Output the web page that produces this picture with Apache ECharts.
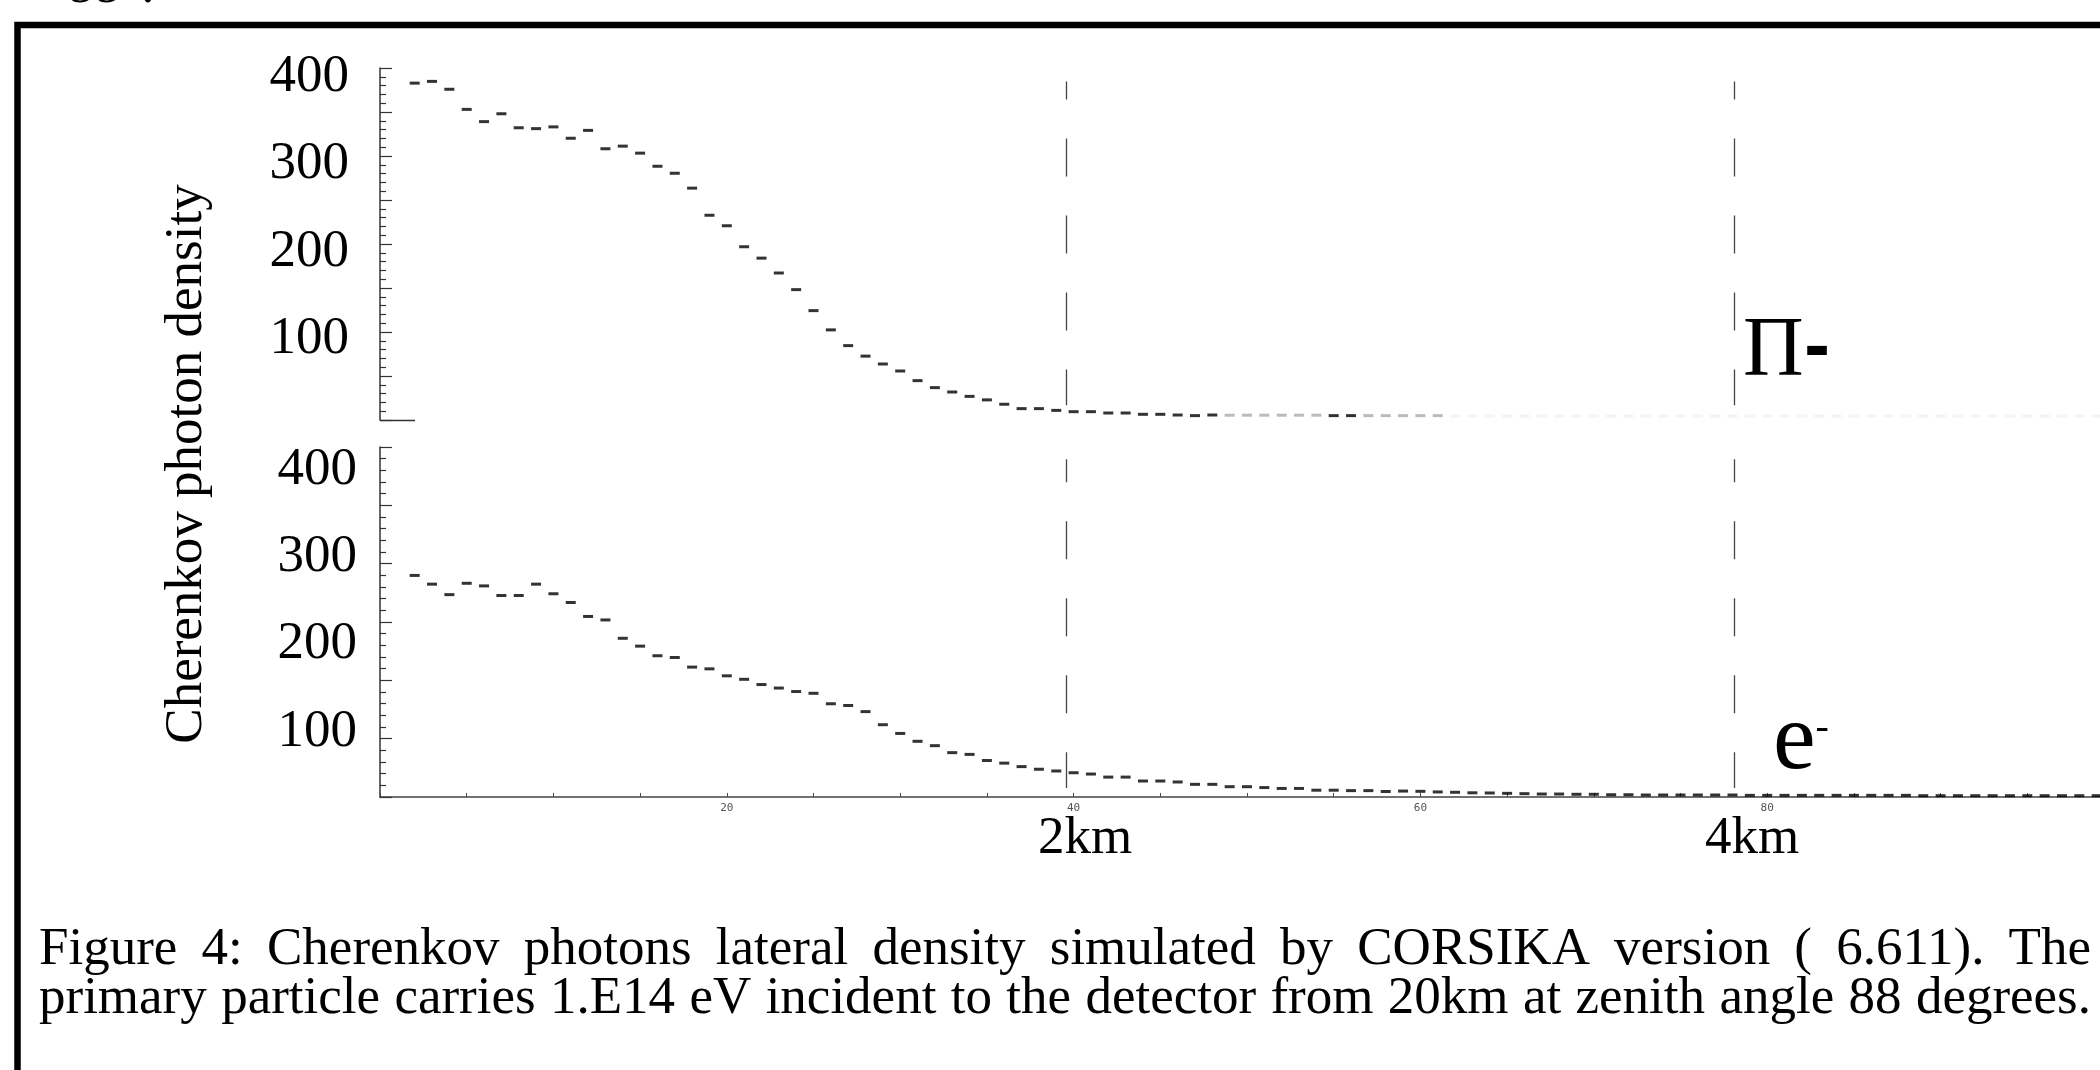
<!DOCTYPE html>
<html>
<head>
<meta charset="utf-8">
<title>Cherenkov photons lateral density</title>
<script src="https://cdn.jsdelivr.net/npm/echarts/dist/echarts.min.js"></script>
<style>
  html, body { margin: 0; padding: 0; background: #ffffff; }
  #chart { width: 2100px; height: 1070px; }
</style>
</head>
<body>
<div id="chart"></div>
<script>
  // data, one value per bin starting at bin 2
  const firstBin = 2;
  const piDensity = [
    393, 395, 386, 363, 349, 358, 342, 341, 343, 330,
    339, 318, 321, 313, 298, 290, 273, 242, 230, 206,
    193, 176, 157, 133, 111, 93, 81, 72, 64, 53,
    45, 40, 35, 31, 26, 21, 21, 19, 17.5, 17.5,
    16, 16, 14.5, 14.5, 13.7, 13, 13.7, 13.5, 13.5, 13.5,
    13.5, 13.5, 13.5, 13, 13, 13, 13, 13, 13, 13,
    12.5, 12.5, 12.5, 12.5, 12.5, 12.5, 12.5, 12.5, 12.5, 12.5,
    12.5, 12.5, 12.5, 12.5, 12.5, 12.5, 12.5, 12.5, 12.5, 12.5,
    12.5, 12.5, 12.5, 12.5, 12.5, 12.5, 12.5, 12.5, 12.5, 12.5,
    12.5, 12.5, 12.5, 12.5, 12.5, 12.5, 12.5, 12.5, 12.5
  ];
  const eDensity = [
    279, 269, 257, 270, 267, 256, 256, 269, 258, 248,
    232, 228, 207, 198, 187, 185, 174, 172, 164, 160,
    154, 150, 146, 144, 132, 130, 123, 108, 98, 89,
    84, 76, 74, 67, 64, 60, 57, 55, 53, 51.5,
    48, 48, 43.5, 43.5, 42.4, 39.7, 39.7, 37, 37, 36,
    35, 35, 33, 33, 32.5, 32.5, 31.5, 32, 31.7, 31,
    30.6, 30, 29.8, 29.4, 29, 28.6, 28.6, 28.3, 28.3, 27.8,
    27.8, 27.5, 27.5, 27.5, 27.5, 27.5, 27.5, 27.1, 27.1, 27.1,
    27.1, 27.1, 27.1, 27.1, 27.1, 27.1, 27.1, 26.7, 26.7, 26.7,
    26.7, 26.7, 26.7, 26.7, 26.7, 26.7, 26.7, 26.7, 26.7
  ];
  const yLabels = [100, 200, 300, 400];
  const xLabels = [20, 40, 60, 80, 100];
  const distanceMarks = [39.56, 78.09];
  const distanceNames = ['2km', '4km'];
  const captionLines = [
    'Figure 4: Cherenkov photons lateral density simulated by CORSIKA version ( 6.611). The',
    'primary particle carries 1.E14 eV incident to the detector from 20km at zenith angle 88 degrees.'
  ];

  const serif = 'Liberation Serif';
  const axisGray = '#333';

  // the upper plot is partly washed out near its base line
  function piShade(bin) {
    if (bin <= 48 || bin === 55 || bin === 56) return '#000';
    if (bin <= 61) return '#aaa';
    return '#f0f0f0';
  }

  const piData = piDensity.map(function (v, i) {
    const bin = firstBin + i;
    return { value: [bin, v], itemStyle: { color: piShade(bin) } };
  });
  const eData = eDensity.map(function (v, i) {
    return [firstBin + i, v];
  });

  // caption lines are justified across the frame
  const measure = document.createElement('canvas').getContext('2d');
  function captionLine(text, left, right, baseline, size) {
    const words = text.split(' ');
    measure.font = size + 'px "' + serif + '"';
    const widths = words.map(function (w) { return measure.measureText(w).width; });
    const used = widths.reduce(function (a, b) { return a + b; }, 0);
    const gap = (right - left - used) / (words.length - 1);
    let x = left;
    return words.map(function (w, i) {
      const el = {
        type: 'text', x: x, y: baseline - 0.3375 * size,
        style: { text: w, font: size + 'px "' + serif + '"', fill: '#000', textAlign: 'left', textVerticalAlign: 'middle' }
      };
      x += widths[i] + gap;
      return el;
    });
  }

  function labelAxis(grid, min, max, margin) {
    return {
      gridIndex: grid, type: 'value', position: 'left', min: min, max: max,
      axisLine: { show: false }, axisTick: { show: false }, splitLine: { show: false },
      axisLabel: { customValues: yLabels, margin: margin, fontSize: 53, fontFamily: serif, color: '#000' }
    };
  }
  function tickAxis(grid, steps) {
    return {
      gridIndex: grid, type: 'value', position: 'left', min: 0, max: steps, interval: 1,
      axisLine: { show: true, lineStyle: { color: axisGray, width: 1.5 } },
      axisTick: { show: true, inside: true, length: 12, lineStyle: { color: axisGray, width: 1.2 } },
      minorTick: { show: true, splitNumber: 5, length: 6, lineStyle: { color: axisGray, width: 1.2 } },
      axisLabel: { show: false }, splitLine: { show: false }
    };
  }
  function distanceLines(top, bottom, offset) {
    return {
      silent: true, symbol: ['none', 'none'], animation: false,
      label: { show: false },
      lineStyle: { color: '#444', width: 1.3, type: [38, 39], dashOffset: offset },
      data: distanceMarks.map(function (x) { return [{ coord: [x, top] }, { coord: [x, bottom] }]; })
    };
  }

  const graphics = [
    { type: 'rect', shape: { x: 17.5, y: 25, width: 2400, height: 1400 },
      style: { fill: 'none', stroke: '#000', lineWidth: 6.5 } },
    { type: 'text', x: 67, y: 6 - 0.3375 * 53,
      style: { text: '88°.', font: '53px "' + serif + '"', fill: '#000', textAlign: 'left', textVerticalAlign: 'middle' } },
    { type: 'text', x: 187, y: 464, rotation: Math.PI / 2,
      style: { text: 'Cherenkov photon density', font: '53px "' + serif + '"', fill: '#000', textAlign: 'center', textVerticalAlign: 'middle' } },
    { type: 'line', shape: { x1: 380, y1: 420.5, x2: 415, y2: 420.5 }, style: { stroke: axisGray, lineWidth: 1.5 } },
    { type: 'text', x: 1743, y: 381 - 0.3375 * 84,
      style: { text: '{p|Π}{m|-}', textAlign: 'left', textVerticalAlign: 'middle', fill: '#000',
        rich: { p: { fontSize: 84, fontFamily: serif }, m: { fontSize: 64, fontFamily: 'DejaVu Sans', fontWeight: 'bold', verticalAlign: 'middle' } } } },
    { type: 'text', x: 1773, y: 775 - 0.3375 * 96,
      style: { text: '{e|e}{s|-}', textAlign: 'left', textVerticalAlign: 'middle', fill: '#000',
        rich: { e: { fontSize: 96, fontFamily: serif }, s: { fontSize: 40, fontFamily: serif, verticalAlign: 'top', padding: [14, 0, 0, 0] } } } }
  ];
  [1085, 1752].forEach(function (cx, i) {
    graphics.push({ type: 'text', x: cx, y: 857 - 0.3375 * 53,
      style: { text: distanceNames[i], font: '53px "' + serif + '"', fill: '#000', textAlign: 'center', textVerticalAlign: 'middle' } });
  });
  captionLines.forEach(function (line, i) {
    captionLine(line, 39, 2091, 968 + i * 49, 53).forEach(function (el) { graphics.push(el); });
  });

  const chart = echarts.init(document.getElementById('chart'));
  const option = {
    backgroundColor: '#ffffff',
    animation: false,
    grid: [
      { left: 380, top: 68, right: -14, height: 352, outerBoundsMode: 'none' },
      { left: 380, top: 447, right: -14, height: 350, outerBoundsMode: 'none' }
    ],
    xAxis: [
      { gridIndex: 0, type: 'value', min: 0, max: 100, show: false },
      {
        gridIndex: 1, type: 'value', min: 0, max: 100, interval: 5,
        axisLine: { onZero: false, lineStyle: { color: '#444', width: 1.5 } },
        axisTick: { inside: true, length: 4, lineStyle: { color: '#444' } },
        axisLabel: { customValues: xLabels, margin: 6, fontSize: 11, fontFamily: 'DejaVu Sans Mono', color: '#555' },
        splitLine: { show: false }
      }
    ],
    yAxis: [
      labelAxis(0, 8, 410.3, 31),
      tickAxis(0, 8),
      labelAxis(1, 25.2, 426.1, 23),
      tickAxis(1, 6)
    ],
    series: [
      {
        name: 'Π-', type: 'scatter', xAxisIndex: 0, yAxisIndex: 0,
        symbol: 'rect', symbolSize: [10, 3], emphasis: { disabled: true },
        data: piData,
        markLine: distanceLines(395, 25, 20)
      },
      {
        name: 'e-', type: 'scatter', xAxisIndex: 1, yAxisIndex: 2,
        symbol: 'rect', symbolSize: [10, 3], emphasis: { disabled: true },
        itemStyle: { color: '#000' },
        data: eData,
        markLine: distanceLines(412, 35.5, 15)
      }
    ],
    graphic: graphics
  };
  chart.setOption(option);
</script>
</body>
</html>
